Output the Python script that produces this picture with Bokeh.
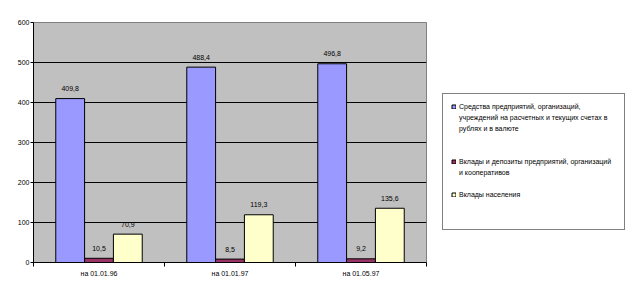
from bokeh.plotting import figure
from bokeh.layouts import row
from bokeh.models import Range1d, FixedTicker, Legend, LegendItem, ColumnDataSource
from bokeh.core.properties import value
from bokeh.embed import file_html
from bokeh.resources import INLINE

categories = ["на 01.01.96", "на 01.01.97", "на 01.05.97"]
series_lines = [
    ["Средства предприятий, организаций,",
     "учреждений на расчетных и текущих счетах в",
     "рублях и в валюте"],
    ["Вклады и депозиты предприятий, организаций",
     "и кооперативов"],
    ["Вклады населения"],
]
funds = [409.8, 488.4, 496.8]
deposits = [10.5, 8.5, 9.2]
household = [70.9, 119.3, 135.6]
y_ticks = [0, 100, 200, 300, 400, 500, 600]

colors = ["#9999FF", "#993366", "#FFFFCC"]
offsets = [-0.22, 0.0, 0.22]
gaps_after = [2, 1, 2]   # blank legend rows after each entry
bar_w = 0.22
FONT = "Liberation Sans"

p = figure(width=427, height=295, output_backend="svg", toolbar_location=None,
           x_range=Range1d(0, len(categories)), y_range=Range1d(0, 600),
           min_border_left=33, min_border_right=1, min_border_top=22, min_border_bottom=33)
p.background_fill_color = "#C0C0C0"
p.border_fill_color = "white"
p.outline_line_color = "#808080"
p.outline_line_width = 1

p.xgrid.visible = False
p.ygrid.ticker = FixedTicker(ticks=y_ticks)
p.ygrid.grid_line_color = "black"
p.ygrid.grid_line_width = 1

p.yaxis.ticker = FixedTicker(ticks=y_ticks)
p.yaxis.axis_line_color = "black"
p.yaxis.major_tick_line_color = "black"
p.yaxis.major_tick_out = 3
p.yaxis.major_tick_in = 0
p.yaxis.minor_tick_line_color = None
p.yaxis.major_label_text_font = FONT
p.yaxis.major_label_text_font_size = "7px"
p.yaxis.major_label_text_color = "black"
p.yaxis.major_label_standoff = 1

centers = [i + 0.5 for i in range(len(categories))]
p.xaxis.ticker = FixedTicker(ticks=centers, minor_ticks=list(range(len(categories) + 1)))
p.xaxis.major_label_overrides = {c: lab for c, lab in zip(centers, categories)}
p.xaxis.major_tick_line_color = None
p.xaxis.major_tick_out = 0
p.xaxis.major_tick_in = 0
p.xaxis.minor_tick_line_color = "black"
p.xaxis.minor_tick_out = 4
p.xaxis.minor_tick_in = 0
p.xaxis.axis_line_color = "black"
p.xaxis.major_label_text_font = FONT
p.xaxis.major_label_text_font_size = "7px"
p.xaxis.major_label_text_color = "black"
p.xaxis.major_label_standoff = 3

# legend panel figure
p2 = figure(width=202, height=295, output_backend="svg", toolbar_location=None,
            x_axis_type=None, y_axis_type=None, x_range=Range1d(0, 1), y_range=Range1d(0, 1),
            min_border=0)
p2.outline_line_color = None
p2.background_fill_color = "white"
p2.border_fill_color = "white"
p2.xgrid.visible = False
p2.ygrid.visible = False

blank = p2.vbar(x=[], top=[], width=0.1, fill_alpha=0, line_alpha=0)

items = []
for vals, col, off, lines, gap in zip([funds, deposits, household], colors, offsets,
                                      series_lines, gaps_after):
    xs = [c + off for c in centers]
    src = ColumnDataSource(dict(x=xs, top=vals, lab=[f"{v:.1f}".replace(".", ",") for v in vals]))
    p.vbar(x="x", top="top", width=bar_w, source=src, fill_color=col,
           line_color="black", line_width=1)
    p.text(x="x", y="top", text="lab", source=src, text_align="center",
           text_baseline="middle", y_offset=-10, text_font=value(FONT),
           text_font_size="7px", text_color="black")
    # legend key lives outside the visible range of the legend panel
    r2 = p2.vbar(x=[10], top=[1], width=0.1, fill_color=col, line_color="black", line_width=1)
    items.append(LegendItem(label=lines[0], renderers=[r2]))
    for ln in lines[1:]:
        items.append(LegendItem(label=ln, renderers=[blank]))
    for _ in range(gap):
        items.append(LegendItem(label=" ", renderers=[blank]))

legend = Legend(items=items, location=(15, 32), orientation="vertical",
                label_text_font=FONT, label_text_font_size="7px", label_text_color="black",
                glyph_width=5, glyph_height=5, label_standoff=3, label_width=157,
                label_height=9, spacing=2, padding=8, margin=0,
                border_line_color="black", border_line_width=1,
                background_fill_color="white", background_fill_alpha=1.0)
p2.add_layout(legend)

open("out.html", "w").write(file_html(row(p, p2), INLINE))
